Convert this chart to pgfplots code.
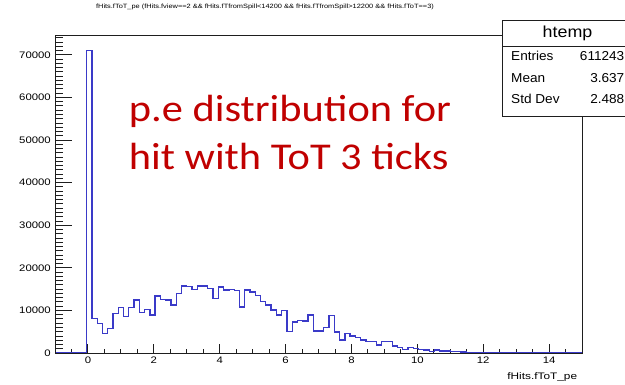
\documentclass[border=0pt]{standalone}
\usepackage{pgfplots}
\usepackage{pgfplotstable}
\pgfplotsset{compat=1.18}
\usepackage{fontspec}
\setmainfont{Liberation Sans}
\newfontfamily\slidefont{Carlito}
\definecolor{histblue}{RGB}{58,58,200}
\definecolor{slidered}{RGB}{192,0,0}
\definecolor{framegray}{RGB}{30,30,30}

\pgfplotsset{
  rootframe/.style={
    scale only axis, width=527bp, height=318bp,
    at={(55bp,31bp)}, anchor=south west,
    xmin=-1, xmax=15, ymin=0, ymax=74655,
    axis line style={line width=0.9bp, framegray},
    tick style={line width=0.9bp, framegray},
    tick align=inside,
    xtick pos=left, ytick pos=left,
    scaled ticks=false,
    tick label style={font=\fontsize{9.5}{10}\selectfont, xscale=1.2},
    /pgf/number format/.cd, 1000 sep={}, assume math mode=true,
  }
}

\begin{document}

% p.e. histogram, 100 bins from -1 to 15 (width 0.16); each point is a bin's left edge
\pgfplotstableread{
edge  count
-1.00 0
-0.84 0
-0.68 0
-0.52 0
-0.36 0
-0.20 0
-0.04 71050
0.12 8150
0.28 6970
0.44 4620
0.60 5800
0.76 9320
0.92 10730
1.08 8540
1.24 10730
1.40 12450
1.56 9480
1.72 10260
1.88 8930
2.04 13400
2.20 12610
2.36 12450
2.52 11280
2.68 14020
2.84 15745
3.00 15590
3.16 14960
3.32 15745
3.48 15745
3.64 15200
3.80 12850
3.96 15500
4.12 14800
4.28 14880
4.44 14700
4.60 10770
4.76 14800
4.92 14300
5.08 13470
5.24 12060
5.40 11280
5.56 10100
5.72 8930
5.88 10000
6.04 5010
6.20 7250
6.36 7650
6.52 7500
6.68 8930
6.84 5170
7.00 5170
7.16 5990
7.32 8850
7.48 4930
7.64 3055
7.80 4580
7.96 4000
8.12 3680
8.28 3055
8.44 2660
8.60 2660
8.76 1880
8.92 2660
9.08 2660
9.24 1645
9.40 1330
9.56 860
9.72 1330
9.88 1100
10.04 860
10.20 700
10.36 310
10.52 700
10.68 500
10.84 500
11.00 400
11.16 300
11.32 250
11.48 200
11.64 150
11.80 120
11.96 80
12.12 40
12.28 20
12.44 0
15.00 0
}\hist

\begin{tikzpicture}[x=1bp,y=1bp]
\path[use as bounding box] (0,0) rectangle (625,384);

% frame, x ticks and the histogram
\begin{axis}[rootframe,
    xtick={0,2,...,14},
    minor xtick={-0.5,0,...,15},
    ytick=\empty,
    major tick length=9bp, minor tick length=4.5bp]
  \addplot[const plot, histblue, line width=1.3bp] table[x=edge, y=count] {\hist};
\end{axis}

% y ticks (longer, as ROOT scales them with the pad width)
\begin{axis}[rootframe,
    xtick=\empty,
    ytick={0,10000,...,70000},
    minor ytick={0,1000,...,74000},
    major tick length=16.5bp, minor tick length=8bp]
\end{axis}

% histogram title
\node[font=\fontsize{6.2}{7}\selectfont, xscale=1.2] at (265,377) {fHits.fToT\_pe (fHits.fview==2 \&\& fHits.fTfromSpill<14200 \&\& fHits.fTfromSpill>12200 \&\& fHits.fToT==3)};

% statistics box
\draw[framegray, fill=white, line width=0.9bp] (502.7,267.5) rectangle (660,363.5);
\draw[framegray, line width=0.9bp] (502.7,337.3) -- (660,337.3);
\node[anchor=base, font=\fontsize{16}{18}\selectfont, xscale=1.12] at (567.5,346.7) {htemp};
\begin{scope}[every node/.style={font=\fontsize{13}{15}\selectfont, xscale=1.05}]
  \node[anchor=base west] at (507.5,324) {Entries};
  \node[anchor=base west] at (507.5,301.5) {Mean};
  \node[anchor=base west] at (507.5,281) {Std Dev};
  \node[anchor=base east] at (628,324) {611243};
  \node[anchor=base east] at (628,301.5) {3.637};
  \node[anchor=base east] at (628,281) {2.488};
\end{scope}

% x axis title
\node[anchor=base east, font=\fontsize{9.5}{10}\selectfont, xscale=1.25] at (581.5,5) {fHits.fToT\_pe};

% slide annotation
\begin{scope}[every node/.style={anchor=base west, text=slidered, font=\slidefont\fontsize{38}{40}\selectfont, xscale=1.12}]
  \node at (125,263) {p.e distribution for};
  \node at (125,215) {hit with ToT 3 ticks};
\end{scope}
\end{tikzpicture}
\end{document}
